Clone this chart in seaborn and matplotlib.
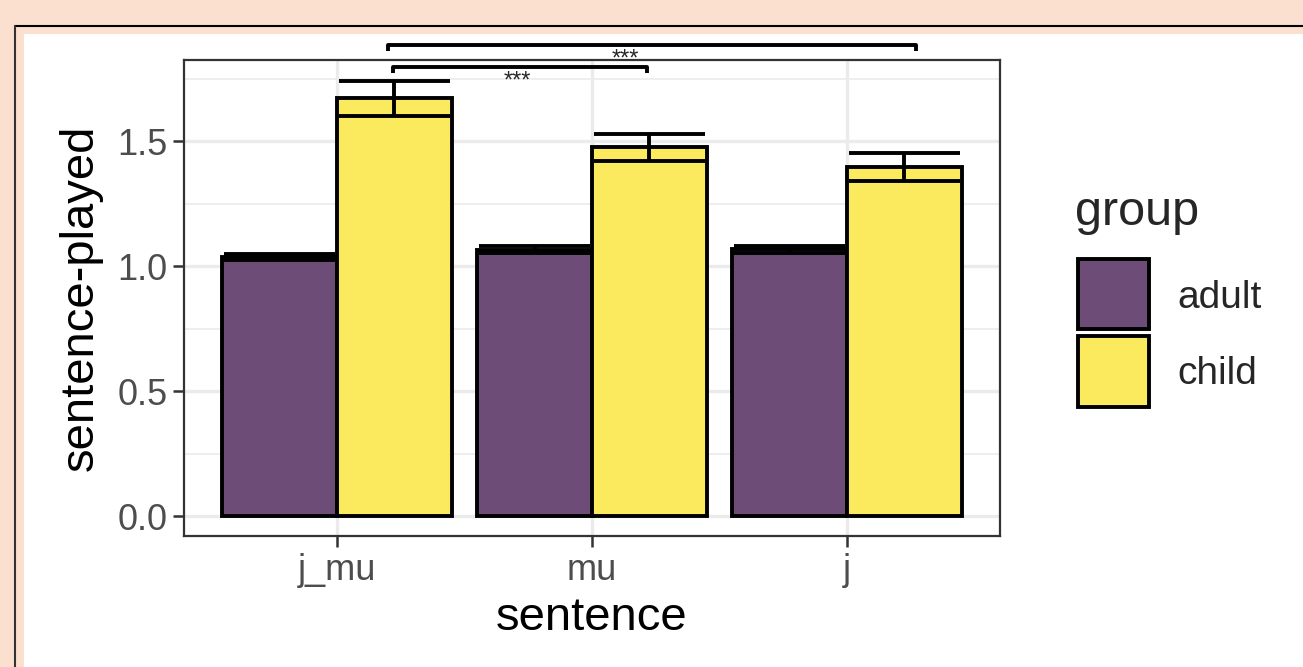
import pandas as pd
import matplotlib.pyplot as plt
import seaborn as sns
from matplotlib.patches import Rectangle
from matplotlib.lines import Line2D
from matplotlib.ticker import MultipleLocator

# values
sentences = ['j_mu', 'mu', 'j']
groups = ['adult', 'child']
adult_mean = [1.036, 1.065, 1.068]
adult_se = [0.012, 0.014, 0.014]
child_mean = [1.672, 1.475, 1.395]
child_se = [0.070, 0.054, 0.056]
colors = {'adult': '#6e4c78', 'child': '#fcea5e'}

# significance brackets: (x_left, x_right, y, text_x, label)
brackets = [(0.20, 2.27, 1.884, 1.13, '***'),
            (0.22, 1.215, 1.796, 0.707, '***')]

df = pd.DataFrame({
    'sentence': sentences * 2,
    'group': ['adult'] * 3 + ['child'] * 3,
    'mean': adult_mean + child_mean,
    'se': adult_se + child_se,
})

sns.set_theme(style="whitegrid")
plt.rcParams['font.family'] = ['Liberation Sans', 'DejaVu Sans']

W, H = 1303, 667
fig = plt.figure(figsize=(W / 100, H / 100), dpi=100)
fig.patch.set_facecolor('#fbe0d0')

# white card + black frame line like the screenshot
fig.add_artist(Rectangle((24 / W, 0), 1, 1 - 34 / H, transform=fig.transFigure,
                         facecolor='white', edgecolor='none', zorder=-10))
fig.add_artist(Line2D([15 / W, 1], [1 - 26 / H] * 2, transform=fig.transFigure,
                      color='black', lw=1.5))
fig.add_artist(Line2D([15 / W] * 2, [0, 1 - 26 / H], transform=fig.transFigure,
                      color='#333333', lw=1.5))

ax = fig.add_axes([184 / W, 1 - 536 / H, (1000 - 184) / W, (536 - 60) / H])

sns.barplot(data=df, x='sentence', y='mean', hue='group', order=sentences,
            hue_order=groups, palette=colors, saturation=1, errorbar=None,
            width=0.9, gap=0, edgecolor='black', linewidth=2.8, legend=False, ax=ax)

# error bars on top of the bars (mean +/- se), caps as wide as the bar
lookup = {(r.sentence, r.group): r for r in df.itertuples()}
for p in ax.patches:
    cx = p.get_x() + p.get_width() / 2
    h = p.get_height()
    if h == 0:
        continue
    i = int(round(cx))
    g = 'adult' if cx < i else 'child'
    r = lookup[(sentences[i], g)]
    half = p.get_width() / 2 * 0.97
    lo, hi = r.mean - r.se, r.mean + r.se
    ax.vlines(cx, lo, hi, color='black', lw=2.8, zorder=3)
    ax.hlines([lo, hi], cx - half, cx + half, color='black', lw=2.8, zorder=3)

# significance brackets
for x0, x1, y, tx, lab in brackets:
    tip = 0.025
    ax.plot([x0, x0, x1, x1], [y - tip, y, y, y - tip], color='black', lw=2.8,
            clip_on=False, solid_capstyle='butt', zorder=4)
    ax.text(tx, y - 0.014, lab, ha='center', va='top', fontsize=17, clip_on=False)

ax.set_xlim(-0.6, 2.6)
ax.set_ylim(-0.08, 1.824)
ax.set_yticks([0, 0.5, 1.0, 1.5])
ax.set_yticklabels(['0.0', '0.5', '1.0', '1.5'])
ax.yaxis.set_minor_locator(MultipleLocator(0.25))
ax.set_axisbelow(True)
ax.grid(True, which='major', color='#ebebeb', lw=2.4)
ax.grid(True, which='minor', axis='y', color='#ebebeb', lw=1.2)
ax.set_facecolor('white')
for s in ax.spines.values():
    s.set_color('#333333')
    s.set_linewidth(1.6)

ax.tick_params(axis='both', which='major', length=8, width=1.8, color='#333333',
               labelsize=26, labelcolor='#4d4d4d', pad=4, left=True, bottom=True)
ax.tick_params(axis='both', which='minor', length=0)
ax.set_xlabel('sentence', fontsize=34, color='black', labelpad=6)
ax.set_ylabel('sentence-played', fontsize=34, color='black', labelpad=10)

# legend drawn by hand in figure pixels
fig.text(1075 / W, 1 - 225 / H, 'group', fontsize=35, ha='left', va='baseline')
for y0, y1, g, base in [(259, 329, 'adult', 308), (336, 407, 'child', 384)]:
    fig.add_artist(Rectangle((1078 / W, 1 - y1 / H), 71 / W, (y1 - y0) / H,
                             transform=fig.transFigure, facecolor=colors[g],
                             edgecolor='black', lw=2.8))
    fig.text(1177 / W, 1 - base / H, g, fontsize=28, ha='left', va='baseline')

plt.savefig('out.png', dpi=100, facecolor=fig.get_facecolor())
plt.close()
